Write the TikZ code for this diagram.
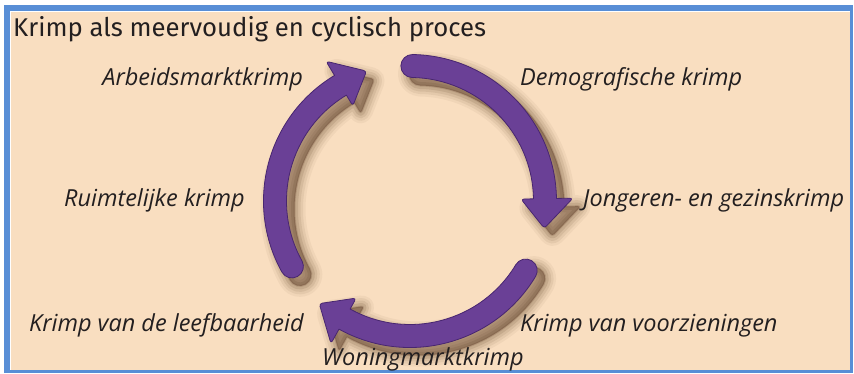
\documentclass[tikz,border=0pt]{standalone}
\usepackage{fontspec}
\setmainfont{Open Sans}
\newfontfamily\titlefont{Fira Sans}
\definecolor{peach}{RGB}{249,222,192}
\definecolor{frameblue}{RGB}{88,142,214}
\definecolor{arrowpurple}{RGB}{106,64,150}
\definecolor{arrowedge}{RGB}{72,38,112}
\definecolor{shadowcol}{RGB}{80,48,25}
\definecolor{textcol}{RGB}{35,31,32}
\tikzset{
  lbl/.style={font=\fontsize{23.5}{26}\selectfont\itshape, inner sep=0pt, text=textcol},
  ttl/.style={font=\titlefont\fontsize{25.7}{28}\selectfont, inner sep=0pt, text=textcol},
  arrowbody/.style={fill=arrowpurple, draw=arrowedge, line width=0.8pt, line join=round}
}
\begin{document}
\begin{tikzpicture}[x=1pt,y=1pt]
\useasboundingbox (0,0) rectangle (854,374);
\fill[white] (0,0) rectangle (854,374);
\fill[frameblue] (4,1) rectangle (853,369);
\fill[white] (10,4) rectangle (850,363);
\fill[peach] (11,4) rectangle (850,362);
\coordinate (C) at (410,173);
% shadows
\foreach \t in {89,-31,209} {
  \foreach \w/\o in {22/0.05,17/0.07,12/0.09,7/0.12,2/0.16} {
    \filldraw[shadowcol, opacity=\o, line width=\w pt, line join=round, shift={(418,165)}]
      (\t-88:146.5) arc[start angle=\t-88, end angle=\t, radius=146.5]
      arc[start angle=\t, end angle=\t+180, radius=11.5]
      arc[start angle=\t, end angle=\t-88, radius=123.5]
      [rounded corners=3pt] -- (\t-88:111) -- (\t-100.5:137) -- (\t-88:163) [sharp corners] -- cycle;
  }
}
% arrows
\foreach \t/\n in {89/a,-31/b,209/c} {
  \filldraw[arrowbody, shift={(C)}]
    (\t-88:146.5) arc[start angle=\t-88, end angle=\t, radius=146.5]
    arc[start angle=\t, end angle=\t+180, radius=11.5]
    arc[start angle=\t, end angle=\t-88, radius=123.5]
    [rounded corners=3pt] -- (\t-88:111) -- (\t-100.5:137) -- (\t-88:163) [sharp corners] -- cycle;
}
\node[ttl, anchor=base west] (title) at (13,337) {Krimp als meervoudig en cyclisch proces};
\node[lbl, anchor=base east] (arb) at (303,288) {Arbeidsmarktkrimp};
\node[lbl, anchor=base west] (dem) at (520,288) {Demografische krimp};
\node[lbl, anchor=base east] (rui) at (245,167) {Ruimtelijke krimp};
\node[lbl, anchor=base west] (jon) at (583,167) {Jongeren- en gezinskrimp};
\node[lbl, anchor=base west] (lee) at (29,42) {Krimp van de leefbaarheid};
\node[lbl, anchor=base west] (voo) at (520,42) {Krimp van voorzieningen};
\node[lbl, anchor=base west] (won) at (322,8) {Woningmarktkrimp};
\end{tikzpicture}
\end{document}
